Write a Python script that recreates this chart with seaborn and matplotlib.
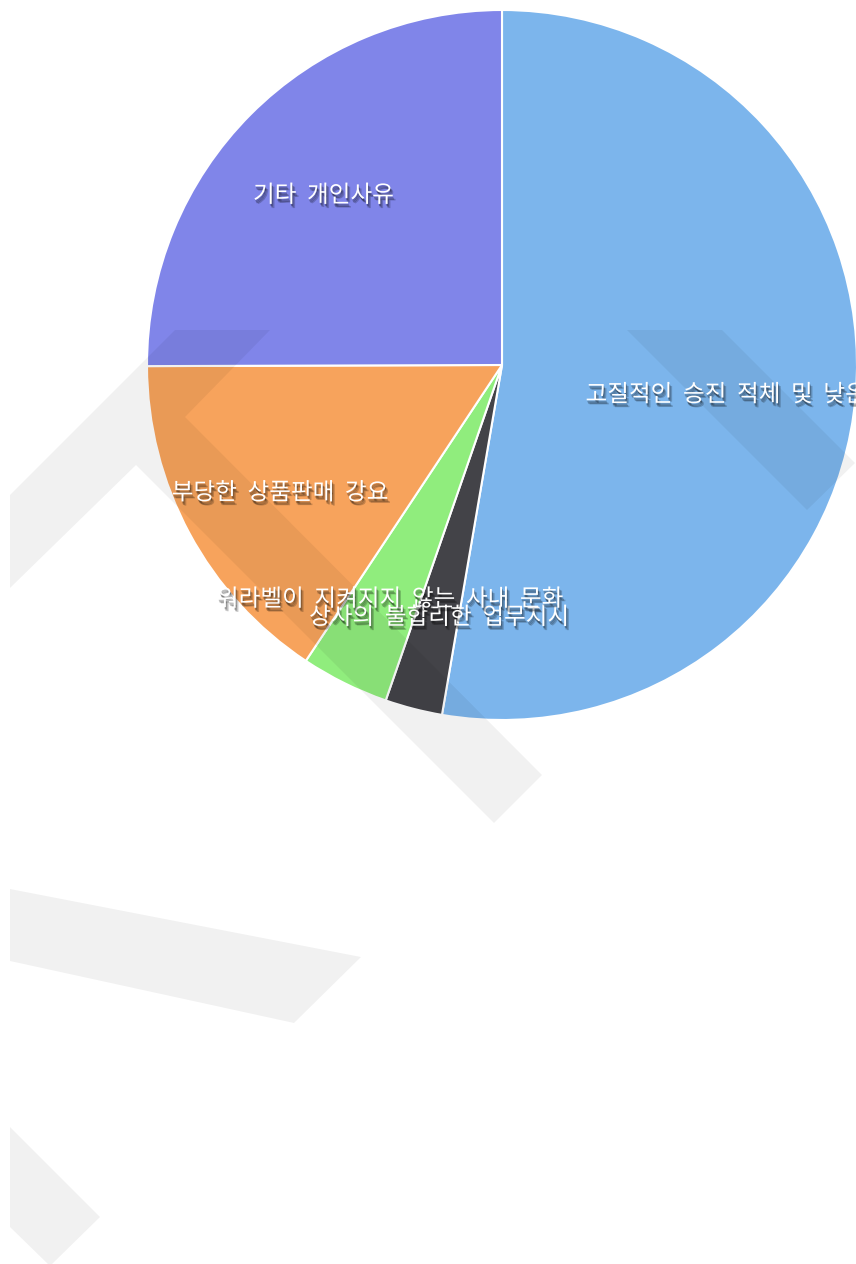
import matplotlib
matplotlib.use("Agg")
import matplotlib.pyplot as plt
import matplotlib.patheffects as pe
from matplotlib.patches import Polygon
import seaborn as sns

# slice data (share of answers)
reasons = [
    "고질적인 승진 적체 및 낮은 연봉",
    "상사의 불합리한 업무지시",
    "워라벨이 지켜지지 않는 사내 문화",
    "부당한 상품판매 강요",
    "기타 개인사유",
]
shares = [52.6, 2.6, 4.0, 15.6, 25.0]
slice_colors = ["#7cb5ec", "#434348", "#90ed7d", "#f7a35c", "#8085e9"]

# background watermark outline, in pixels of the 856x1264 canvas
W, H = 856, 1264
watermark = [
    [(10, 495), (175, 330), (270, 330), (185, 417), (542, 775), (494, 823), (136, 465), (10, 588)],
    [(627, 330), (722, 330), (855, 463), (807, 510)],
    [(10, 889), (361, 957), (294, 1023), (10, 961)],
    [(10, 1127), (100, 1217), (50, 1266), (10, 1227)],
]

sns.set_theme(style="white")
plt.rcParams["font.family"] = ["Noto Sans CJK KR", "DejaVu Sans"]

fig = plt.figure(figsize=(W / 100, H / 100), dpi=100)
cx, cy, r = 502, 365, 355
ax = fig.add_axes([(cx - r) / W, (H - cy - r) / H, 2 * r / W, 2 * r / H])

# the original labels use wide word gaps
shown = [s.replace(" ", "  ") for s in reasons]

wedges, texts = ax.pie(
    shares,
    labels=shown,
    colors=sns.color_palette(slice_colors),
    startangle=90,
    counterclock=False,
    labeldistance=0.71,
    wedgeprops=dict(edgecolor="white", linewidth=1.5),
    textprops=dict(fontsize=17, color="white"),
)
ax.set_xlim(-1, 1)
ax.set_ylim(-1, 1)
ax.set_aspect("equal")
ax.axis("off")

for w in wedges:
    w.set_clip_on(False)

shadow = [
    pe.SimplePatchShadow(offset=(1, -2.5), shadow_rgbFace="black", alpha=0.25),
    pe.SimplePatchShadow(offset=(2, -3), shadow_rgbFace="black", alpha=0.2),
    pe.SimplePatchShadow(offset=(0.5, -1.5), shadow_rgbFace="black", alpha=0.25),
    pe.Normal(),
]
for t in texts:
    x, y = t.get_position()
    t.set_position((x, y - 0.024))
    t.set_ha("center")
    t.set_va("center")
    t.set_zorder(10)
    t.set_clip_on(False)
    t.set_path_effects(shadow)

for pts in watermark:
    poly = Polygon([(x / W, 1 - y / H) for x, y in pts], closed=True,
                   transform=fig.transFigure, facecolor="black", alpha=0.053,
                   edgecolor="none", zorder=5, clip_on=False)
    ax.add_patch(poly)

fig.savefig("out.png", dpi=100, facecolor="white")
